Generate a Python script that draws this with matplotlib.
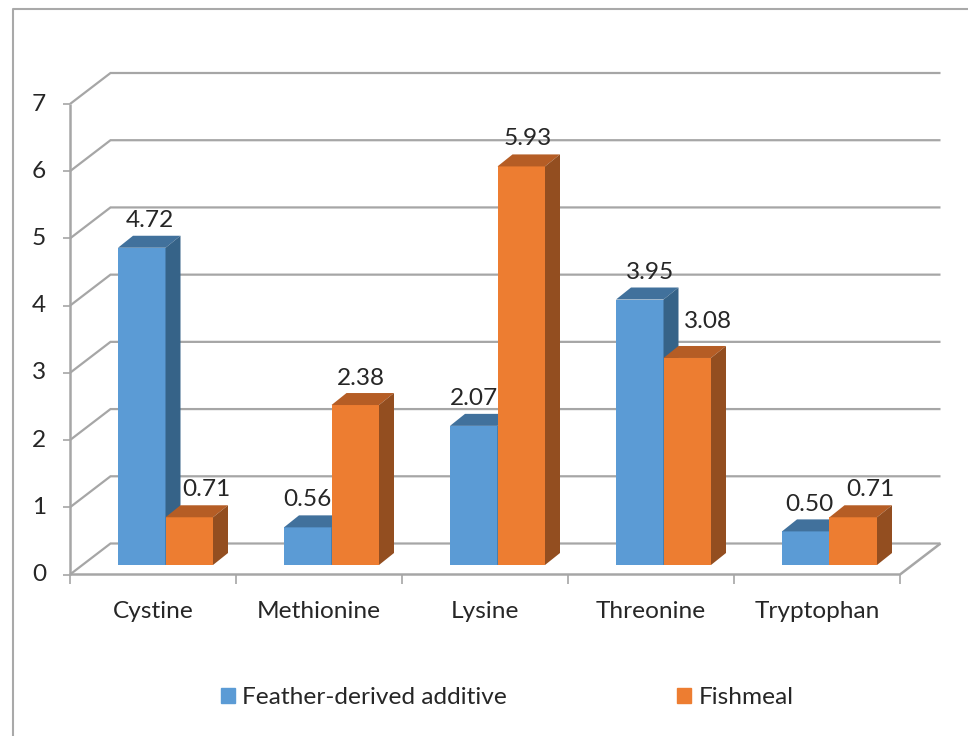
import matplotlib.pyplot as plt
from matplotlib.lines import Line2D
from matplotlib.patches import Patch, Polygon

categories = ["Cystine", "Methionine", "Lysine", "Threonine", "Tryptophan"]
feather = [4.72, 0.56, 2.07, 3.95, 0.50]
fishmeal = [0.71, 2.38, 5.93, 3.08, 0.71]
y_ticks = [0, 1, 2, 3, 4, 5, 6, 7]

# label nudges from the bar centre, in pixels
feather_nudge = [(8, 27), (0, 28), (0, 27), (10, 27), (4, 27)]
fishmeal_nudge = [(17, 28), (6, 27), (6, 28), (21, 36), (17, 28)]

W, H = 968, 736
LEFT, RIGHT, BOTTOM, TOP = 70, 900, 574.5, 104
GREY = "#a6a6a6"
TEXT = "#262626"
BLUE = ("#5b9bd5", "#41719c", "#366388")
ORANGE = ("#ed7d31", "#b55d25", "#934e20")
FONT = 17.6

plt.rcParams["font.family"] = ["Lato", "DejaVu Sans"]

fig = plt.figure(figsize=(W / 100, H / 100), dpi=100)
ax = fig.add_axes([LEFT / W, 1 - BOTTOM / H, (RIGHT - LEFT) / W, (BOTTOM - TOP) / H])
ax.set_xlim(0, len(categories))
ax.set_ylim(0, 7)
ax.axis("off")

px_x = len(categories) / (RIGHT - LEFT)
px_y = 7 / (BOTTOM - TOP)
wall_dx, wall_dy = 40.5 * px_x, 31 * px_y
bar_dx, bar_dy = 15 * px_x, 12 * px_y
bar_w = 47.5 * px_x
bar_lift = 9.5 * px_y
bar_shift = 12.5 * px_x


def grey_line(xs, ys, lw=1.6, z=1):
    ax.add_line(Line2D(xs, ys, color=GREY, lw=lw, zorder=z, clip_on=False,
                       solid_capstyle="butt", solid_joinstyle="miter"))


# back wall and floor
n = len(categories)
for v in y_ticks:
    grey_line([0, wall_dx, n + wall_dx], [v, v + wall_dy, v + wall_dy])
    grey_line([-7 * px_x, 0], [v, v], lw=1.2)
    ax.text(-31 * px_x, v, str(v), ha="center", va="center", fontsize=FONT, color=TEXT)
grey_line([0, 0], [0, 7], lw=1.8)
grey_line([0, n, n + wall_dx], [0, 0, wall_dy], lw=1.8, z=1.5)
for i in range(n + 1):
    grey_line([i, i], [0, -9 * px_y], lw=1.2)
for i, name in enumerate(categories):
    ax.text(i + 0.5, -37 * px_y, name, ha="center", va="center", fontsize=FONT, color=TEXT)


def draw_bar(x, value, colors, z):
    face, top, side = colors
    y0, y1 = bar_lift, bar_lift + value
    ax.bar(x, value, bar_w, bottom=bar_lift, align="edge", color=face, zorder=z)
    ax.add_patch(Polygon([(x, y1), (x + bar_w, y1), (x + bar_w + bar_dx, y1 + bar_dy), (x + bar_dx, y1 + bar_dy)],
                         facecolor=top, edgecolor="none", zorder=z, clip_on=False))
    ax.add_patch(Polygon([(x + bar_w, y0), (x + bar_w + bar_dx, y0 + bar_dy), (x + bar_w + bar_dx, y1 + bar_dy), (x + bar_w, y1)],
                         facecolor=side, edgecolor="none", zorder=z, clip_on=False))


for i in range(n):
    mid = i + 0.5 + bar_shift
    draw_bar(mid - bar_w, feather[i], BLUE, 3 + i)
    draw_bar(mid, fishmeal[i], ORANGE, 3.5 + i)
    for x, v, nudge in ((mid - bar_w / 2, feather[i], feather_nudge[i]),
                        (mid + bar_w / 2, fishmeal[i], fishmeal_nudge[i])):
        ax.text(x + nudge[0] * px_x, bar_lift + v + nudge[1] * px_y, f"{v:.2f}",
                ha="center", va="center", fontsize=FONT, color=TEXT, zorder=20)

# outer chart frame, runs off the right edge
fig.add_artist(Line2D([13 / W, 13 / W, 1], [0, 1 - 9 / H, 1 - 9 / H], color="#a9a9a9", lw=1.5))

handles = [Patch(color=BLUE[0]), Patch(color=ORANGE[0])]
fig.legend(handles, ["Feather-derived additive", "Fishmeal"], ncol=2, frameon=False,
           loc="center", bbox_to_anchor=(507 / W, 1 - 698 / H), fontsize=FONT, labelcolor=TEXT,
           handlelength=0.57, handleheight=0.57, handletextpad=0.28, columnspacing=7.0)

fig.savefig("out.png", dpi=100)
